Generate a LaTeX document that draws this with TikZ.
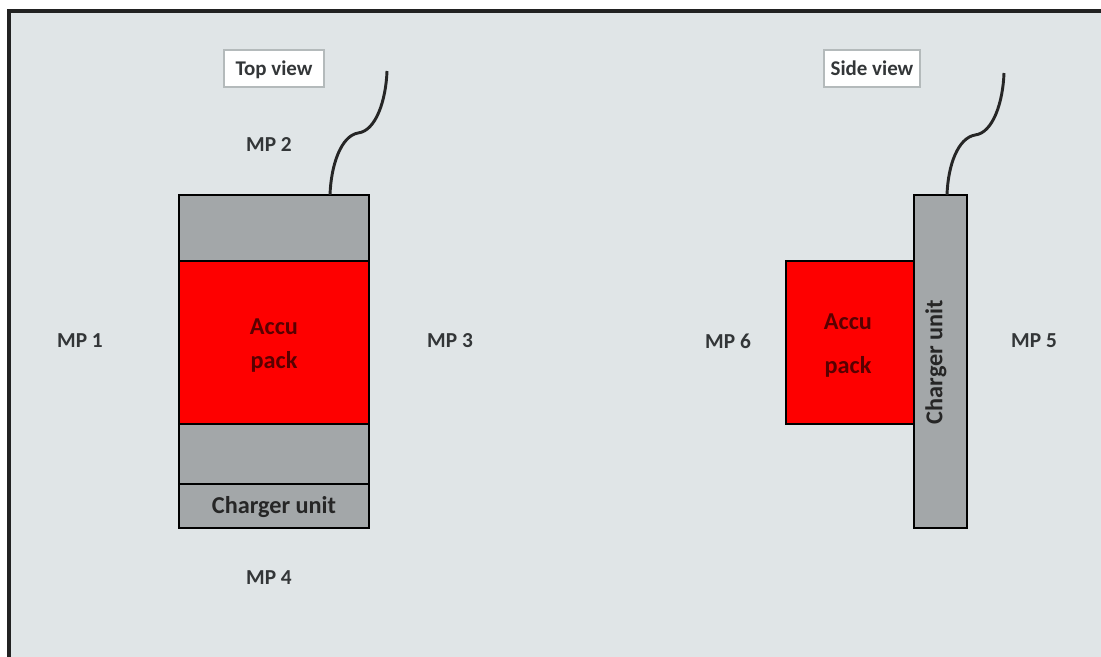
\documentclass[tikz,border=0pt]{standalone}
\usepackage{fontspec}
\setmainfont{Carlito}
\definecolor{bgc}{HTML}{E0E5E7}
\definecolor{boxgrey}{HTML}{A3A7A9}
\definecolor{accu}{HTML}{FE0000}
\definecolor{frameline}{HTML}{222222}
\definecolor{viewline}{HTML}{B4BABB}
\definecolor{txt}{HTML}{333638}
\tikzset{
  px/.style={x=0.75pt,y=-0.75pt},
  part/.style={draw=black,line width=2.2pt,outer sep=0pt,inner sep=0pt,anchor=north west},
  grey/.style={part,fill=boxgrey},
  red/.style={part,fill=accu},
  mp/.style={font=\fontsize{16}{18}\selectfont\bfseries,text=txt,inner sep=0pt},
  viewbox/.style={draw=viewline,fill=white,line width=1.6pt,outer sep=0pt,font=\fontsize{15.7}{17}\selectfont\bfseries,text=txt,text depth=0pt,inner sep=0pt,anchor=north west},
  lbl/.style={font=\fontsize{18.2}{20}\selectfont\bfseries,text=black!85,inner sep=0pt},
  redlbl/.style={lbl,text=black!65!red},
  cable/.style={draw=black!85,line width=2.2pt}
}
\newcommand{\boxat}[6]{\node[#1,minimum width=#4*0.75pt,minimum height=#5*0.75pt] (#6) at (#2,#3) {};}
\begin{document}
\begin{tikzpicture}[px]
\useasboundingbox (0,0) rectangle (1101,657);
\fill[white] (0,0) rectangle (1101,657);
\fill[bgc] (9,11) rectangle (1101,657);
\draw[frameline,line width=2.4pt] (9,657) -- (9,11) -- (1101,11);
% top view
\boxat{grey}{179}{195}{190}{66}{tg}
\boxat{grey}{179}{424}{190}{60}{mg}
\boxat{grey}{179}{484}{190}{44}{cu}
\boxat{red}{179}{261}{190}{163}{ap}
\node[lbl] (culabel) at (274,507) {Charger unit};
\node[redlbl] (a1) at (274,327) {Accu};
\node[redlbl] (a2) at (274,362) {pack};
\node[viewbox,minimum width=100*0.75pt,minimum height=37*0.75pt] (tv) at (224,50) {Top view\hspace{6pt}};
\node[mp] (mp1) at (80,341) {MP 1};
\node[mp] (mp2) at (269,145) {MP 2};
\node[mp] (mp3) at (450,341) {MP 3};
\node[mp] (mp4) at (269,578) {MP 4};
\coordinate (c1a) at (330,195);
\coordinate (c1b) at (387,71);
\draw[cable] (c1a) .. controls (331,165) and (341,136) .. (358,133) .. controls (376,131) and (386,100) .. (c1b);
% side view
\boxat{grey}{914}{195}{53}{333}{sg}
\boxat{red}{786}{261}{128}{163}{sa}
\node[lbl,rotate=90] (sc) at (936,362) {Charger unit};
\node[redlbl] (s1) at (848,322) {Accu};
\node[redlbl] (s2) at (848,367) {pack};
\node[viewbox,minimum width=96*0.75pt,minimum height=37*0.75pt] (sv) at (824,50) {Side view};
\node[mp] (mp6) at (728,341) {MP 6};
\node[mp] (mp5) at (1034,341) {MP 5};
\coordinate (c2a) at (947,195);
\coordinate (c2b) at (1004,73);
\draw[cable] (c2a) .. controls (948,165) and (958,138) .. (975,135) .. controls (993,133) and (1003,102) .. (c2b);
\end{tikzpicture}
\end{document}
